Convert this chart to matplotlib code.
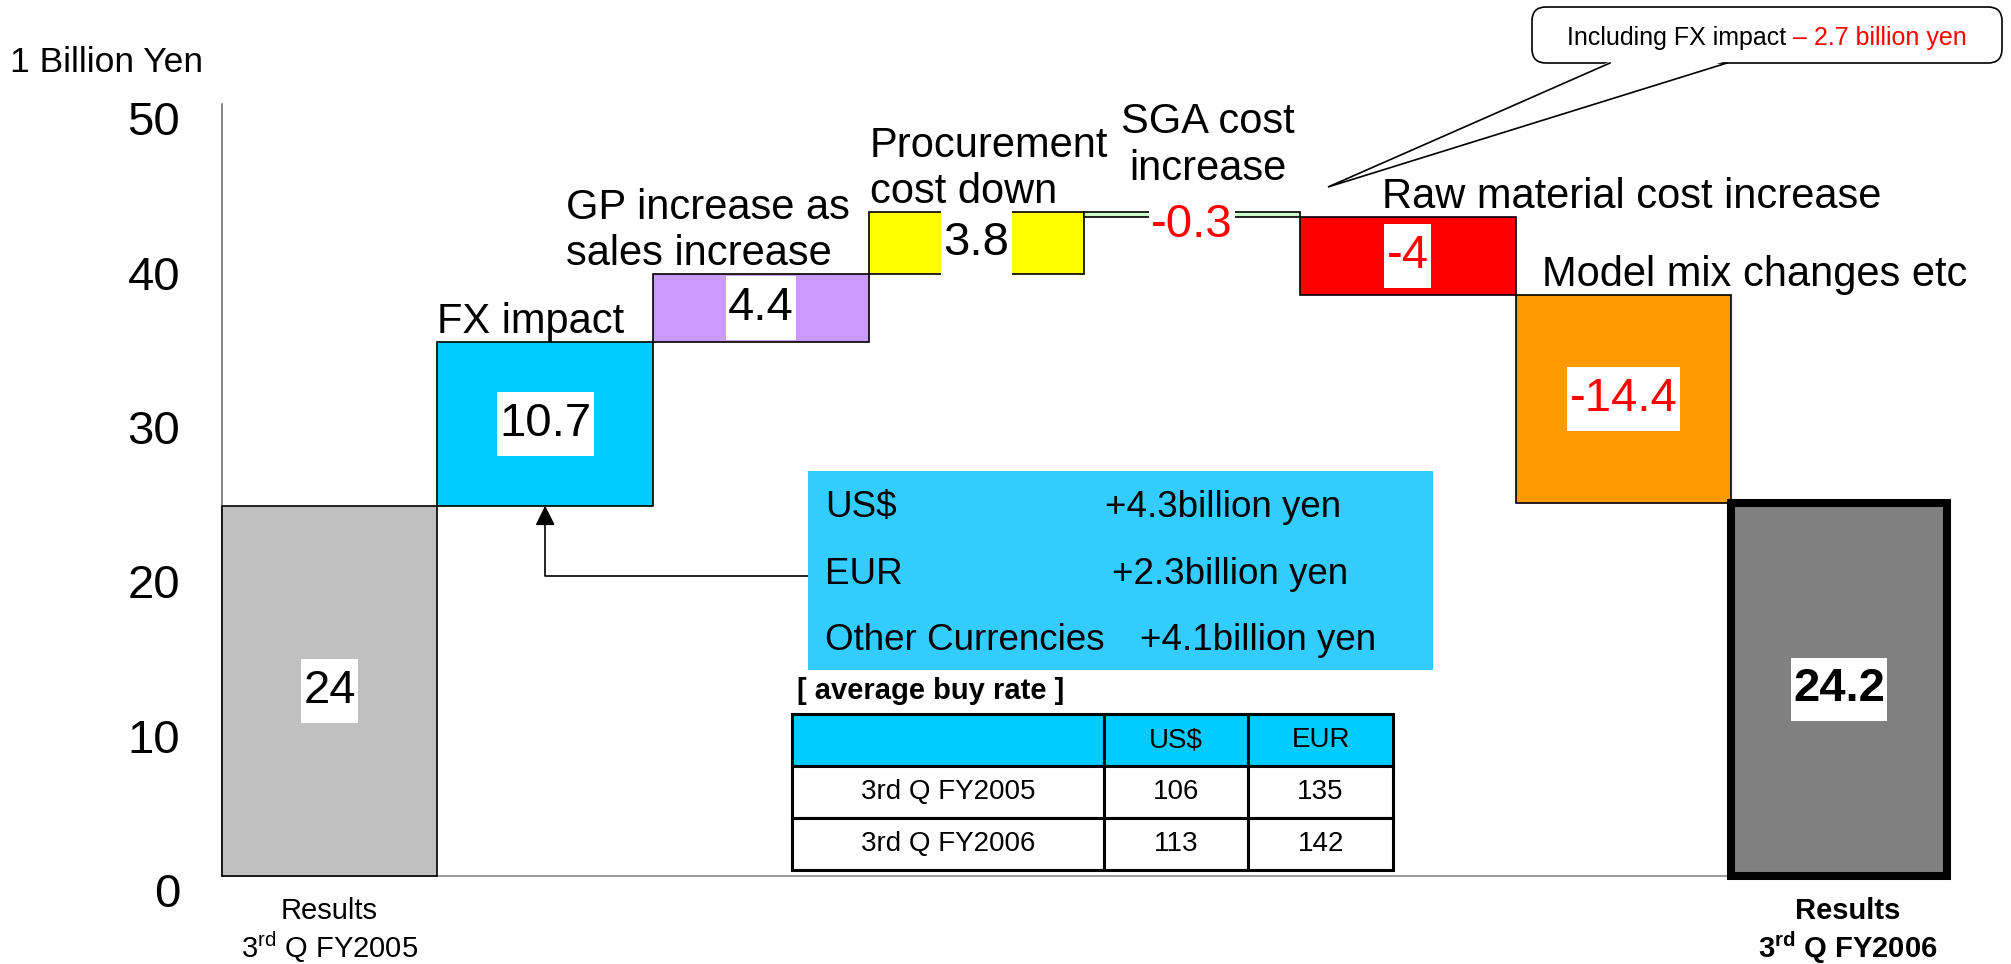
import matplotlib
matplotlib.use("Agg")
import matplotlib.pyplot as plt
from matplotlib.patches import FancyBboxPatch, Polygon, Rectangle
from matplotlib.path import Path
from matplotlib.transforms import ScaledTranslation

plt.rcParams['font.family'] = ['Liberation Sans', 'DejaVu Sans']
plt.rcParams['mathtext.fontset'] = 'custom'
plt.rcParams['mathtext.rm'] = 'Liberation Sans'
plt.rcParams['mathtext.it'] = 'Liberation Sans:italic'
plt.rcParams['mathtext.bf'] = 'Liberation Sans:bold'

# ---------------- data ----------------
top_labels = ["", "FX impact", "GP increase as\nsales increase", "Procurement\ncost down",
              "SGA cost\nincrease", "Raw material cost increase", "Model mix changes etc", ""]
bottom_labels = ["Results\n3$^{\\mathrm{rd}}$ Q FY2005", "", "", "", "", "", "",
                 "Results\n3$^{\\mathbf{rd}}$ Q FY2006"]
bar_bottom = [0.0, 24.0, 34.6, 39.0, 42.7, 37.65, 24.2, 0.0]
bar_top = [24.0, 34.6, 39.0, 43.0, 43.0, 42.7, 37.65, 24.2]
value_labels = ["24", "10.7", "4.4", "3.8", "-0.3", "-4", "-14.4", "24.2"]
bar_colors = ["#C0C0C0", "#00CCFF", "#CC99FF", "#FFFF00", "#CCFFCC", "#FF0000", "#FF9900", "#808080"]
y_ticks = [0, 10, 20, 30, 40, 50]

fx_currencies = ["US$", "EUR", "Other Currencies"]
fx_amounts = [4.3, 2.3, 4.1]
rate_header = ["", "US$", "EUR"]
rate_periods = ["3rd Q FY2005", "3rd Q FY2006"]
rate_usd = [106, 113]
rate_eur = [135, 142]
callout_prefix = "Including FX impact "
callout_value = 2.7
unit_label = "1 Billion Yen"

# ---------------- layout ----------------
W, H = 2011, 964
fig = plt.figure(figsize=(W / 100, H / 100), dpi=100)
fig.patch.set_facecolor("white")

ax_l, ax_r, ax_b, ax_t = 221.7, 1947.0, 876.3, 104.3
ax = fig.add_axes([ax_l / W, 1 - ax_b / H, (ax_r - ax_l) / W, (ax_b - ax_t) / H])
ax.patch.set_alpha(0)


class XYPad:
    """Rectangular box style with separate horizontal / vertical padding."""
    def __init__(self, padx, pady):
        self.padx, self.pady = padx, pady

    def __call__(self, x0, y0, width, height, mutation_size):
        px = self.padx * mutation_size
        py = self.pady * mutation_size
        x1, y1 = x0 - px, y0 - py
        x2, y2 = x0 + width + px, y0 + height + py
        return Path([(x1, y1), (x2, y1), (x2, y2), (x1, y2), (x1, y1)], closed=True)


xs = list(range(len(bar_top)))
heights = [t - b for t, b in zip(bar_top, bar_bottom)]
lws = [1.2] * (len(xs) - 1) + [5.8]
bars = ax.bar(xs, heights, bottom=bar_bottom, width=1.0, color=bar_colors,
              edgecolor="black", linewidth=lws, zorder=3)
for b in bars:
    b.set_clip_on(False)

ax.set_xlim(-0.5, 7.5)
ax.set_ylim(0, 50)
ax.set_xticks([])
ax.set_yticks(y_ticks)
ax.tick_params(axis="y", length=0, pad=30, labelsize=34)
for s in ["top", "right"]:
    ax.spines[s].set_visible(False)
ax.spines["left"].set_color("#666666")
ax.spines["left"].set_linewidth(1.1)
ax.spines["bottom"].set_color("#808080")
ax.spines["bottom"].set_linewidth(1.1)
off = ScaledTranslation(0, -10 / 72, fig.dpi_scale_trans)
for lab in ax.get_yticklabels():
    lab.set_transform(lab.get_transform() + off)

# value labels inside bars
for i, lab in enumerate(value_labels):
    mid = (bar_top[i] + bar_bottom[i]) / 2
    neg = lab.startswith("-")
    dy = -7.4 if i == 4 else 0
    ax.annotate(lab, xy=(i, mid), xytext=(0, dy), textcoords="offset points",
                ha="center", va="center", fontsize=34,
                color="#FF0000" if neg else "black",
                fontweight="bold" if i == len(value_labels) - 1 else "normal",
                bbox=dict(boxstyle=XYPad(0.05, 0.21), fc="white", ec="none"),
                zorder=5)

# category labels above bars: (anchor, dx px, dy px, ha)
top_pos = {1: ("left", 0, 0), 2: ("left", -87, 0), 3: ("left", 1, 0),
           4: ("center", 15.6, 23.7), 5: ("left", 81.5, 0), 6: ("left", 26, 0)}
for i, lab in enumerate(top_labels):
    if not lab:
        continue
    ha, dxp, dyp = top_pos[i]
    x0 = i - 0.5 if ha == "left" else i
    ax.annotate(lab, xy=(x0, bar_top[i]), xytext=(dxp * 0.72, dyp * 0.72),
                textcoords="offset points", ha=ha, va="bottom", fontsize=30,
                multialignment="center" if ha == "center" else "left", zorder=6)

# category labels below axis
for i, lab in enumerate(bottom_labels):
    if not lab:
        continue
    last = i == len(bottom_labels) - 1
    ax.annotate(lab, xy=(i, 0), xytext=(6 if last else 0, -15), textcoords="offset points",
                ha="center", va="top", fontsize=21, linespacing=1.15,
                fontweight="bold" if last else "normal")

# ---------------- overlay in reference pixel coordinates ----------------
ov = fig.add_axes([0, 0, 1, 1], zorder=5)
ov.set_xlim(0, W)
ov.set_ylim(H, 0)
ov.axis("off")

ov.text(10, 71.7, unit_label, fontsize=25.5, ha="left", va="baseline")

# callout balloon
ov.add_patch(FancyBboxPatch((1532, 7), 470, 56, boxstyle="round,pad=0,rounding_size=14",
                            fc="white", ec="black", lw=1.2, zorder=2))
ov.add_patch(Polygon([(1611, 61), (1328, 187), (1726, 61)], closed=True,
                     fc="white", ec="none", zorder=3))
ov.plot([1610, 1328, 1727], [63, 187, 63], color="black", lw=1.2, zorder=4,
        solid_joinstyle="miter")
t1 = ov.text(1567, 45, callout_prefix, fontsize=18, ha="left", va="baseline", zorder=5)
ov.annotate(f"\u2013 {callout_value} billion yen", xy=(1, 0), xycoords=t1,
            ha="left", va="bottom", fontsize=18, color="#FF0000", zorder=5)

# FX breakdown box
ov.add_patch(Rectangle((808, 471), 625, 199, fc="#33CCFF", ec="none", zorder=1))
cur_x = 825
amt_x = [1105, 1112, 1140]
base_y = [517, 583.5, 650]
for c, a, xa, yb in zip(fx_currencies, fx_amounts, amt_x, base_y):
    ov.text(cur_x, yb, c, fontsize=26.5, ha="left", va="baseline", zorder=2)
    ov.text(xa, yb, f"+{a:.1f}billion yen", fontsize=26.5, ha="left", va="baseline", zorder=2)

# connector arrow from box to FX bar
ax.annotate("", xy=(1, bar_bottom[1]), xycoords="data",
            xytext=(808, 575.5), textcoords=ov.transData,
            arrowprops=dict(arrowstyle="-|>,head_length=0.6,head_width=0.3",
                            connectionstyle="angle,angleA=0,angleB=90,rad=0",
                            color="black", lw=1.2, shrinkA=0, shrinkB=0,
                            mutation_scale=20))

ov.text(797, 698.6, "[ average buy rate ]", fontsize=21, fontweight="bold",
        ha="left", va="baseline")

# rate table
tx0, tx1, ty0, ty1 = 792, 1393, 714, 870
tax = fig.add_axes([tx0 / W, 1 - ty1 / H, (tx1 - tx0) / W, (ty1 - ty0) / H], zorder=6)
tax.axis("off")
cell_text = [[p, str(u), str(e)] for p, u, e in zip(rate_periods, rate_usd, rate_eur)]
tbl = tax.table(cellText=cell_text, colLabels=rate_header, colWidths=[0.519, 0.240, 0.241],
                bbox=[0, 0, 1, 1], cellLoc="center")
tbl.auto_set_font_size(False)
tbl.set_fontsize(20)
for (r, c), cell in tbl.get_celld().items():
    cell.set_linewidth(2.2)
    cell.set_edgecolor("black")
    cell.set_facecolor("#00CCFF" if r == 0 else "white")

fig.savefig("out.png", dpi=100)
